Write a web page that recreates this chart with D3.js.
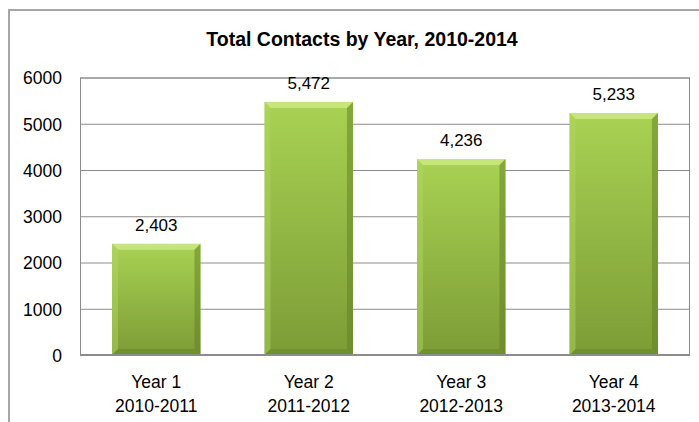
<!DOCTYPE html>
<html lang="en">
<head>
    <meta charset="UTF-8">
    <title>Total Contacts by Year, 2010-2014</title>
    <script src="https://d3js.org/d3.v7.min.js"></script>
    <style>
        body {
            margin: 0;
            background-color: #fff;
        }
        svg {
            display: block;
        }
        text {
            font-family: "Liberation Sans", Arial, sans-serif;
            fill: #000;
        }
        .grid line {
            stroke: #8c8c8c;
            stroke-width: 1px;
        }
    </style>
</head>
<body>
    <svg width="699" height="422"></svg>
    <script>
        // dati
        const years = ["Year 1", "Year 2", "Year 3", "Year 4"];
        const periods = ["2010-2011", "2011-2012", "2012-2013", "2013-2014"];
        const contacts = [2403, 5472, 4236, 5233];
        const yTicks = [0, 1000, 2000, 3000, 4000, 5000, 6000];

        const svg = d3.select("svg"),
            width = +svg.attr("width"),
            height = +svg.attr("height");

        const plot = { left: 80, right: 690, top: 77.5, bottom: 355 };

        const x = d3.scaleBand()
            .domain(years)
            .range([plot.left, plot.right])
            .paddingInner(0.42)
            .paddingOuter(0.21);

        const y = d3.scaleLinear()
            .domain([0, 6000])
            .range([plot.bottom, plot.top]);

        // cornice esterna del grafico
        svg.append("path")
            .attr("d", `M9,${height + 5}V10H${width + 5}`)
            .attr("fill", "none")
            .attr("stroke", "#a6a6a6")
            .attr("stroke-width", 2);

        // gradiente delle barre
        const defs = svg.append("defs");
        const grad = defs.append("linearGradient")
            .attr("id", "barGrad")
            .attr("x1", 0).attr("y1", 0).attr("x2", 0).attr("y2", 1);
        grad.append("stop").attr("offset", "0%").attr("stop-color", "#a9d253");
        grad.append("stop").attr("offset", "100%").attr("stop-color", "#7c9c36");

        // titolo
        svg.append("text")
            .attr("x", 362)
            .attr("y", 46)
            .attr("text-anchor", "middle")
            .style("font-size", "19.5px")
            .style("font-weight", "bold")
            .text("Total Contacts by Year, 2010-2014");

        // griglia
        const grid = svg.append("g").attr("class", "grid");
        grid.selectAll("line")
            .data(yTicks.filter(d => d > 0))
            .enter().append("line")
            .attr("x1", plot.left)
            .attr("x2", plot.right)
            .attr("y1", d => y(d) + 0.5)
            .attr("y2", d => y(d) + 0.5);

        // bordo area del grafico
        svg.append("rect")
            .attr("x", plot.left + 0.5)
            .attr("y", plot.top + 0.5)
            .attr("width", plot.right - plot.left - 1)
            .attr("height", plot.bottom - plot.top)
            .attr("fill", "none")
            .attr("stroke", "#8c8c8c");

        // asse Y
        const yAxis = d3.axisLeft(y)
            .tickValues(yTicks)
            .tickSize(0)
            .tickPadding(18)
            .tickFormat(d3.format("d"));
        const gy = svg.append("g")
            .attr("transform", `translate(${plot.left},0)`)
            .call(yAxis);
        gy.select(".domain").remove();
        gy.selectAll("text")
            .style("font-size", "17.5px")
            .attr("dy", "0.36em");

        // barre
        const bev = 6;
        const bars = svg.append("g")
            .selectAll("g")
            .data(contacts)
            .enter().append("g");

        bars.append("rect")
            .attr("x", (d, i) => x(years[i]))
            .attr("y", d => y(d))
            .attr("width", x.bandwidth())
            .attr("height", d => y(0) - y(d))
            .attr("fill", "url(#barGrad)");

        function bevel(d, i, side) {
            const x0 = x(years[i]), x1 = x0 + x.bandwidth();
            const y0 = y(d), y1 = y(0);
            if (side === "top") return [[x0, y0], [x1, y0], [x1 - bev, y0 + bev], [x0 + bev, y0 + bev]];
            if (side === "left") return [[x0, y0], [x0 + bev, y0 + bev], [x0 + bev, y1 - bev], [x0, y1]];
            if (side === "right") return [[x1, y0], [x1, y1], [x1 - bev, y1 - bev], [x1 - bev, y0 + bev]];
            return [[x0, y1], [x0 + bev, y1 - bev], [x1 - bev, y1 - bev], [x1, y1]];
        }
        const bevelStyle = {
            top: ["#cdea85", 0.8],
            left: ["#b4d862", 0.45],
            right: ["#5f7d22", 0.5],
            bottom: ["#5f7d22", 0.4]
        };
        Object.keys(bevelStyle).forEach(side => {
            bars.append("polygon")
                .attr("points", (d, i) => bevel(d, i, side).join(" "))
                .attr("fill", bevelStyle[side][0])
                .attr("fill-opacity", bevelStyle[side][1]);
        });

        // etichette dei valori
        svg.append("g")
            .selectAll("text")
            .data(contacts)
            .enter().append("text")
            .attr("x", (d, i) => x(years[i]) + x.bandwidth() / 2)
            .attr("y", d => y(d) - 13)
            .attr("text-anchor", "middle")
            .style("font-size", "17px")
            .text(d3.format(","));

        // asse X (linea di base)
        svg.append("line")
            .attr("x1", plot.left)
            .attr("x2", plot.right)
            .attr("y1", plot.bottom)
            .attr("y2", plot.bottom)
            .attr("stroke", "#8c8c8c")
            .attr("stroke-width", 2);

        // etichette categorie
        const xl = svg.append("g")
            .selectAll("text")
            .data(years)
            .enter().append("text")
            .attr("x", d => x(d) + x.bandwidth() / 2)
            .attr("text-anchor", "middle")
            .style("font-size", "17.5px");
        xl.append("tspan")
            .attr("x", d => x(d) + x.bandwidth() / 2)
            .attr("y", 388)
            .text(d => d);
        xl.append("tspan")
            .attr("x", d => x(d) + x.bandwidth() / 2)
            .attr("y", 411.5)
            .text((d, i) => periods[i]);
    </script>
</body>
</html>
